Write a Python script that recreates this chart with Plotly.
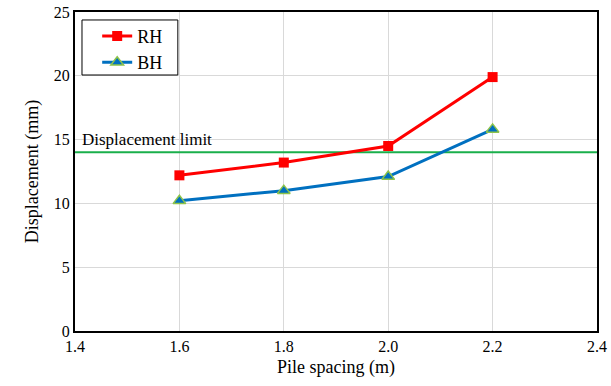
import plotly.graph_objects as go

spacing = [1.6, 1.8, 2.0, 2.2]
rh = [12.2, 13.2, 14.5, 19.9]
bh = [10.2, 11.0, 12.1, 15.8]
limit = 14
limit_x = [1.4, 2.4]

fig = go.Figure()
fig.add_trace(go.Scatter(x=limit_x, y=[limit, limit], mode="lines",
                         line=dict(color="#1aaf4b", width=2), showlegend=False, hoverinfo="skip"))
fig.add_trace(go.Scatter(x=spacing, y=rh, mode="lines+markers", name="RH",
                         line=dict(color="#ff0000", width=3),
                         marker=dict(symbol="square", size=10, color="#ff0000")))
fig.add_trace(go.Scatter(x=spacing, y=bh, mode="lines+markers", name="BH",
                         line=dict(color="#0070c0", width=3),
                         marker=dict(symbol="triangle-up", size=11, color="#0070c0",
                                     line=dict(color="#8dc34a", width=1.5))))

fig.add_annotation(x=1.41, y=limit, xref="x", yref="y", text="Displacement limit",
                   showarrow=False, xanchor="left", yanchor="bottom", yshift=1,
                   font=dict(family="Liberation Serif", size=17, color="black"))

# legend frame
fig.add_shape(type="rect", xref="paper", yref="paper",
              x0=0.0134, x1=0.197, y0=0.8025, y1=0.975,
              line=dict(color="black", width=1), fillcolor="rgba(0,0,0,0)", layer="above")

axis_common = dict(showline=True, linecolor="black", linewidth=2, mirror=True,
                   showgrid=True, gridcolor="#d9d9d9", gridwidth=1, zeroline=False,
                   ticks="", automargin=False,
                   tickfont=dict(family="Liberation Serif", size=16, color="black"),
                   title_font=dict(family="Liberation Serif", size=18, color="black"))

fig.update_xaxes(range=[1.4, 2.4], tickvals=[1.4, 1.6, 1.8, 2.0, 2.2, 2.4],
                 ticktext=["1.4", "1.6", "1.8", "2.0", "2.2", "2.4"],
                 title_text="Pile spacing (m)", title_standoff=6, **axis_common)
fig.update_yaxes(range=[0, 25], tickvals=[0, 5, 10, 15, 20, 25],
                 title_text="Displacement (mm)", title_standoff=10, **axis_common)

fig.update_layout(
    width=611, height=386,
    margin=dict(l=75, r=14, t=12, b=55),
    plot_bgcolor="white", paper_bgcolor="white",
    font=dict(family="Liberation Serif", color="black"),
    legend=dict(x=0.0425, y=0.982, xanchor="left", yanchor="top",
                borderwidth=0, bgcolor="rgba(0,0,0,0)",
                font=dict(family="Liberation Serif", size=18, color="black")),
)

fig.write_html("out.html")
